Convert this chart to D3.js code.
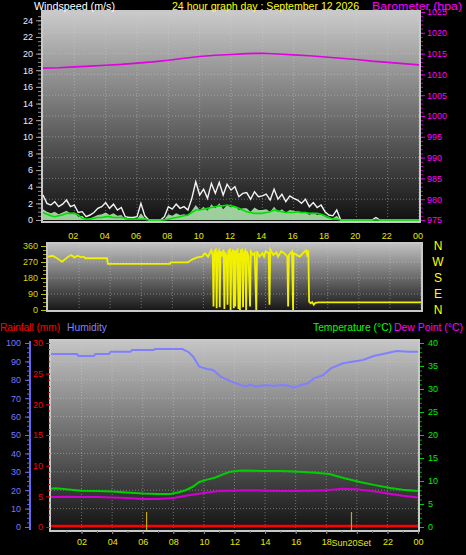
<!DOCTYPE html>
<html><head><meta charset="utf-8">
<script src="https://cdn.jsdelivr.net/npm/d3@7"></script>
<style>
body{margin:0;background:#000;}
svg{display:block;}
text{font-family:"Liberation Sans",Arial,sans-serif;}
</style>
</head><body>
<svg id="c" width="466" height="555"></svg>
<script>
// ---------- DATA ----------
const hourTicks = [2,4,6,8,10,12,14,16,18,20,22,24];
const hourLabels = ["02","04","06","08","10","12","14","16","18","20","22","00"];

// Barometer (hPa), hourly 0..24
const baroHours = [0,1,2,3,4,5,6,7,8,9,10,11,12,13,14,15,16,17,18,19,20,21,22,23,24];
const baroValues = [1011.5,1011.6,1011.8,1012.0,1012.2,1012.4,1012.7,1013.0,1013.4,1013.9,1014.3,1014.6,1014.8,1015.0,1015.1,1014.9,1014.7,1014.5,1014.2,1013.9,1013.6,1013.2,1012.9,1012.6,1012.3];

// Wind (m/s), every 15 minutes 0..24
const windStepHours = 0.25;
const windGust = [
 3.0,2.0,1.8,2.2, 1.6,1.9,2.4,1.6, 1.8,0.9,1.0,0.4, 0.6,0.9,1.4,1.6,
 2.1,1.4,1.9,1.2, 1.5,0.4,0.3,0.3, 0.4,2.0,0.5,0.0, 0.0,0.0,0.0,0.4,
 1.6,1.3,1.9,1.4, 1.6,1.2,2.6,4.6, 3.0,3.7,2.6,4.4, 3.2,4.5,3.0,4.3,
 3.6,4.0,2.8,3.2, 3.3,2.5,3.4,2.8, 2.9,3.1,2.4,3.7, 2.5,3.1,2.2,2.9,
 2.6,2.4,2.0,2.5, 1.6,2.1,1.5,1.8, 1.0,0.6,0.5,1.2, 0,0,0,0,
 0,0,0,0, 0,0.3,0,0, 0,0,0,0, 0,0,0,0, 0];
const windSpeed = [
 1.3,1.0,0.8,1.0, 0.7,0.9,1.1,0.8, 0.9,0.4,0.5,0.1, 0.2,0.4,0.6,0.7,
 0.9,0.6,0.8,0.5, 0.6,0.1,0.1,0.1, 0.1,0.8,0.2,0.0, 0.0,0.0,0.0,0.1,
 0.7,0.5,0.8,0.6, 0.7,0.5,1.1,1.8, 1.2,1.6,1.1,1.9, 1.4,2.0,1.3,1.8,
 1.5,1.7,1.2,1.4, 1.4,1.0,1.5,1.2, 1.2,1.3,1.0,1.6, 1.0,1.3,0.9,1.2,
 1.1,1.0,0.8,1.0, 0.6,0.9,0.6,0.7, 0.4,0.2,0.2,0.5, 0,0,0,0,
 0,0,0,0, 0,0,0,0, 0,0,0,0, 0,0,0,0, 0];
const windAvg = [
 0.9,0.7,0.5,0.4, 0.5,0.6,0.8,0.8, 0.8,0.6,0.2,0.1, 0.1,0.2,0.3,0.3,
 0.4,0.4,0.3,0.3, 0.3,0.2,0.1,0.1, 0.1,0.1,0.1,0.0, 0.0,0.0,0.0,0.0,
 0.1,0.2,0.3,0.4, 0.5,0.6,0.9,1.2, 1.2,1.3,1.4,1.5, 1.6,1.7,1.7,1.8,
 1.7,1.6,1.4,1.2, 1.0,0.9,0.8,0.8, 0.8,0.9,1.0,1.2, 1.1,1.0,0.9,0.9,
 0.9,1.0,0.9,0.9, 0.8,0.8,0.8,0.7, 0.5,0.3,0.1,0.1, 0,0,0,0,
 0,0,0,0, 0,0,0,0, 0,0,0,0, 0,0,0,0, 0];

// Wind direction (degrees)
const dirHours = [0.0,0.3,0.6,0.9,1.1,1.3,1.5,1.7,1.9,2.1,2.3,2.4,3.8,3.85,7.85,7.9,9.0,9.3,9.6,9.9,10.1,10.3,10.5,10.6,10.65,10.7,10.8,10.85,10.9,11.0,11.05,11.1,11.2,11.3,11.35,11.4,11.5,11.55,11.6,11.7,11.75,11.8,11.9,11.95,12.0,12.05,12.1,12.2,12.25,12.3,12.35,12.4,12.5,12.55,12.6,12.7,12.75,12.8,12.9,13.0,13.05,13.2,13.3,13.4,13.45,13.6,13.8,13.9,14.0,14.2,14.25,14.3,14.5,14.7,14.8,15.0,15.2,15.4,15.45,15.5,15.7,15.77,15.8,16.0,16.2,16.4,16.6,16.7,16.75,16.8,16.9,17.0,17.1,17.2,17.4,24];
const dirValues = [300,305,290,272,285,300,309,295,305,298,300,291,291,259,259,268,268,285,296,300,319,300,337,310,20,330,340,10,320,335,15,330,310,340,5,325,300,30,330,340,0,320,340,10,335,20,330,340,5,320,0,335,340,15,320,335,0,330,300,20,330,310,320,0,330,300,320,300,330,320,30,340,310,325,300,330,320,300,20,310,330,0,320,310,300,320,335,300,337,47,38,45,30,40,43,43];
const compassLabels = ["N","W","S","E","N"];
const compassDeg = [360,270,180,90,0];

// Humidity (%)
const humHours = [0,1,1.7,1.8,2.8,2.9,3.8,3.9,5.2,5.3,6.7,6.8,8.6,9.0,9.3,9.7,10.2,10.6,11.1,11.8,12.4,12.8,13.0,13.4,13.8,14.2,14.6,15.0,15.4,15.9,16.3,16.8,17.2,17.8,18.3,19.1,20.4,21.1,21.7,22.6,23.4,24];
const humValues = [94,94,94,93,93,94,94,95.3,95.3,96.2,96.2,96.7,96.7,95.0,92.6,87.1,85.9,85.3,81.7,79.0,77.2,76.4,77.5,76.3,76.9,77.0,76.6,77.2,77.0,75.7,77.0,78.1,80.8,82.6,86.2,89.0,90.8,92.9,94.0,95.6,95.3,95.3];

// Temperature and dew point (°C)
const tempHours = [0,0.3,1,2,3,4,5,6,7,7.8,8.3,8.8,9.3,9.7,10.2,10.7,11.2,11.7,12.5,13.7,15,16.3,17.3,18.2,19.2,20.2,21.2,22.2,23,24];
const tempValues = [8.3,8.4,8.2,7.9,7.8,7.7,7.5,7.3,7.2,7.2,7.5,8.0,8.8,9.8,10.3,10.7,11.4,12.0,12.3,12.2,12.2,12.0,11.8,11.5,10.6,9.8,9.1,8.5,8.1,7.8];
const dewHours = [0,1,2,3,4,5,6,7,8,9,10,11,12,13,14,15,16,17,18,19,20,21,22,23,24];
const dewValues = [6.5,6.6,6.5,6.5,6.4,6.3,6.1,6.1,6.3,6.9,7.4,7.8,7.9,8.0,7.9,7.8,7.8,7.9,8.0,8.3,8.2,7.8,7.3,6.8,6.4];

// Rainfall (mm)
const rainHours = [0,24];
const rainValues = [0,0];

// Sun events (hours)
const sunriseHour = 6.25;
const sunsetHour = 19.65;

// ---------- DRAW ----------
const svg = d3.select("#c");
const defs = svg.append("defs");
function grad(id, c0, c1){
  const g = defs.append("linearGradient").attr("id",id).attr("x1",0).attr("y1",0).attr("x2",0).attr("y2",1);
  g.append("stop").attr("offset","0%").attr("stop-color",c0);
  g.append("stop").attr("offset","100%").attr("stop-color",c1);
}
grad("gTop","#cbcbcb","#101010");
grad("gMid","#c2c2c2","#161616");
grad("gBot","#c6c6c6","#121212");

svg.append("rect").attr("width",466).attr("height",555).attr("fill","#000");

function panel(x0,y0,x1,y1,gid){
  svg.append("rect").attr("x",x0).attr("y",y0).attr("width",x1-x0).attr("height",y1-y0)
    .attr("fill","url(#"+gid+")").attr("stroke","#c8c8c8").attr("stroke-width",2);
}
function gridV(xs, y0, y1){
  svg.append("g").selectAll("line").data(hourTicks).join("line")
    .attr("x1",d=>xs(d)).attr("x2",d=>xs(d)).attr("y1",y0).attr("y2",y1)
    .attr("stroke","#d0d0d0").attr("stroke-opacity",0.45).attr("stroke-dasharray","1,2");
}
function gridH(vals, ys, x0, x1){
  svg.append("g").selectAll("line").data(vals).join("line")
    .attr("x1",x0).attr("x2",x1).attr("y1",d=>ys(d)).attr("y2",d=>ys(d))
    .attr("stroke","#d0d0d0").attr("stroke-opacity",0.45).attr("stroke-dasharray","1,2");
}
function styleAxis(g, color, textColor, fs){
  g.select(".domain").remove();
  g.selectAll("line").attr("stroke",color);
  g.selectAll("text").attr("fill",textColor).style("font-size",fs+"px")
    .style("font-family","'Liberation Sans',Arial,sans-serif");
}
function label(x,y,txt,color,len,size){
  svg.append("text").attr("x",x).attr("y",y).attr("fill",color).style("font-size",(size||11)+"px")
    .attr("textLength",len).attr("lengthAdjust","spacingAndGlyphs").text(txt);
}

// ----- Top panel: wind & barometer -----
const xTop = d3.scaleLinear([0,24],[43,419]);
const yWind = d3.scaleLinear([0,25],[220,12]);
const yBaro = d3.scaleLinear([975,1025],[220,12]);
panel(42,11,420,222,"gTop");
gridV(xTop,12,221);
gridH(d3.range(980,1025,5), yBaro, 43, 419);

const windHours = windGust.map((_,i)=>i*windStepHours);
const windArea = d3.area().x((d,i)=>xTop(windHours[i])).y0(yWind(0)).y1(d=>yWind(d));
svg.append("path").datum(windSpeed).attr("d",windArea).attr("fill","#b4f0b4").attr("fill-opacity",0.85);
svg.append("path").datum(windGust).attr("d",d3.line().x((d,i)=>xTop(windHours[i])).y(d=>yWind(d)))
  .attr("fill","none").attr("stroke","#f4f4f4").attr("stroke-width",1.4);
svg.append("path").datum(windAvg).attr("d",d3.line().x((d,i)=>xTop(windHours[i])).y(d=>yWind(d)))
  .attr("fill","none").attr("stroke","#00e000").attr("stroke-width",1.6);
svg.append("path").datum(baroValues).attr("d",d3.line().x((d,i)=>xTop(baroHours[i])).y(d=>yBaro(d)))
  .attr("fill","none").attr("stroke","#e000e0").attr("stroke-width",1.6);

// wind axis
let g = svg.append("g").attr("transform","translate(41,0)")
  .call(d3.axisLeft(yWind).tickValues(d3.range(0,25,0.5)).tickSize(3).tickFormat(""));
styleAxis(g,"#8a8a8a","#fff",9);
g = svg.append("g").attr("transform","translate(41,0)")
  .call(d3.axisLeft(yWind).tickValues(d3.range(0,25,2)).tickSize(5).tickPadding(3).tickFormat(d3.format("d")));
styleAxis(g,"#a0a0a0","#e6eeff",9);
// baro axis
g = svg.append("g").attr("transform","translate(421,0)")
  .call(d3.axisRight(yBaro).tickValues(d3.range(975,1026,1)).tickSize(2).tickFormat(""));
styleAxis(g,"#c000c0","#f0f",9);
g = svg.append("g").attr("transform","translate(421,0)")
  .call(d3.axisRight(yBaro).tickValues(d3.range(975,1026,5)).tickSize(4).tickPadding(2).tickFormat(d3.format("d")));
styleAxis(g,"#e000e0","#ff00ff",9);
// top hour labels
svg.append("g").selectAll("text").data(hourTicks).join("text")
  .attr("x",d=>xTop(d)-1).attr("y",239).attr("text-anchor","middle")
  .attr("fill","#e8e800").style("font-size","9px").text((d,i)=>hourLabels[i]);

// titles
label(34,10,"Windspeed (m/s)","#fff",81);
label(172,10,"24 hour graph day : September 12 2026","#ffff00",187);
label(372,10,"Barometer (hpa)","#ff00ff",90);

// ----- Middle panel: wind direction -----
const xMid = d3.scaleLinear([0,24],[48,421]);
const yDir = d3.scaleLinear([0,360],[310,246]);
panel(47,243,422,311,"gMid");
gridV(xMid,244,310);
gridH([90,180,270], yDir, 48, 421);
svg.append("path").datum(dirValues).attr("d",d3.line().x((d,i)=>xMid(dirHours[i])).y(d=>yDir(d)))
  .attr("fill","none").attr("stroke","#f0f000").attr("stroke-width",1.8);
g = svg.append("g").attr("transform","translate(46,0)")
  .call(d3.axisLeft(yDir).tickValues(d3.range(0,361,22.5)).tickSize(3).tickFormat(""));
styleAxis(g,"#a0a000","#cc0",9);
g = svg.append("g").attr("transform","translate(46,0)")
  .call(d3.axisLeft(yDir).tickValues([0,90,180,270,360]).tickSize(5).tickPadding(3).tickFormat(d3.format("d")));
styleAxis(g,"#c0c000","#d8d800",9);
svg.append("g").selectAll("text").data(compassDeg).join("text")
  .attr("x",438).attr("y",d=>yDir(d)+4).attr("text-anchor","middle")
  .attr("fill","#ffff00").style("font-size","12px").text((d,i)=>compassLabels[i]);

// ----- Bottom panel: rain, humidity, temperature, dew point -----
const xBot = d3.scaleLinear([0,24],[51,418]);
const yTemp = d3.scaleLinear([0,40],[527,343]);
const yHum = d3.scaleLinear([0,100],[527,343]);
const yRain = d3.scaleLinear([0,30],[527,343]);
panel(50,340,419,531,"gBot");
gridV(xBot,341,530);
gridH(d3.range(10,100,10), yHum, 51, 418);

svg.append("path").datum(humValues).attr("d",d3.line().x((d,i)=>xBot(humHours[i])).y(d=>yHum(d)))
  .attr("fill","none").attr("stroke","#8080ff").attr("stroke-width",2);
svg.append("path").datum(tempValues).attr("d",d3.line().x((d,i)=>xBot(tempHours[i])).y(d=>yTemp(d)))
  .attr("fill","none").attr("stroke","#00d000").attr("stroke-width",2);
svg.append("path").datum(dewValues).attr("d",d3.line().x((d,i)=>xBot(dewHours[i])).y(d=>yTemp(d)))
  .attr("fill","none").attr("stroke","#d000d0").attr("stroke-width",2);
svg.append("path").datum(rainValues).attr("d",d3.line().x((d,i)=>xBot(rainHours[i])).y(d=>yRain(d)-1))
  .attr("fill","none").attr("stroke","#ff0000").attr("stroke-width",2.5);
// sunrise / sunset markers
svg.append("g").selectAll("line").data([sunriseHour,sunsetHour]).join("line")
  .attr("x1",d=>xBot(d)).attr("x2",d=>xBot(d)).attr("y1",512).attr("y2",530)
  .attr("stroke","#c8a800").attr("stroke-width",1.2);

// humidity axis
g = svg.append("g").attr("transform","translate(30,0)")
  .call(d3.axisLeft(yHum).tickValues(d3.range(0,101,2.5)).tickSize(3).tickFormat(""));
styleAxis(g,"#6060e0","#8080ff",9);
g = svg.append("g").attr("transform","translate(30,0)")
  .call(d3.axisLeft(yHum).tickValues(d3.range(0,101,10)).tickSize(5).tickPadding(4).tickFormat(d3.format("d")));
styleAxis(g,"#6868f0","#7878ff",9);
svg.append("line").attr("x1",30).attr("x2",30).attr("y1",yHum(100)-2).attr("y2",yHum(0)+3)
  .attr("stroke","#6868f0").attr("stroke-width",2);
// rain axis
g = svg.append("g").attr("transform","translate(50,0)")
  .call(d3.axisLeft(yRain).tickValues(d3.range(0,31,1)).tickSize(2).tickFormat(""));
styleAxis(g,"#b00000","#f00",9);
g = svg.append("g").attr("transform","translate(50,0)")
  .call(d3.axisLeft(yRain).tickValues(d3.range(0,31,5)).tickSize(4).tickPadding(3).tickFormat(d3.format("d")));
styleAxis(g,"#e00000","#ff0000",9);
// temperature axis
g = svg.append("g").attr("transform","translate(420,0)")
  .call(d3.axisRight(yTemp).tickValues(d3.range(0,41,1)).tickSize(2).tickFormat(""));
styleAxis(g,"#00a000","#0f0",9);
g = svg.append("g").attr("transform","translate(420,0)")
  .call(d3.axisRight(yTemp).tickValues(d3.range(0,41,5)).tickSize(4).tickPadding(4).tickFormat(d3.format("d")));
styleAxis(g,"#00d000","#00ee00",9);
// bottom x axis (the "20" label shares its slot with the sunset marker text)
g = svg.append("g").attr("transform","translate(0,531)")
  .call(d3.axisBottom(xBot).tickValues(d3.range(1,24,1)).tickSize(2).tickFormat(""));
styleAxis(g,"#707070","#ff0",9);
g = svg.append("g").attr("transform","translate(0,531)")
  .call(d3.axisBottom(xBot).tickValues(hourTicks).tickSize(3).tickPadding(5)
    .tickFormat((d,i)=>d===20?"":hourLabels[i]));
styleAxis(g,"#909090","#e8e800",9);
const sx = xBot(sunsetHour);
svg.append("text").attr("x",sx-4).attr("y",546).attr("text-anchor","end")
  .attr("fill","#e8e800").style("font-size","9px").text("Sun");
svg.append("text").attr("x",sx+1).attr("y",546).attr("text-anchor","middle")
  .attr("fill","#e8e800").style("font-size","9px").text(hourLabels[hourTicks.indexOf(20)]);
svg.append("text").attr("x",sx+6).attr("y",546).attr("text-anchor","start")
  .attr("fill","#e8e800").style("font-size","9px").text("Set");

// bottom header
label(0,331,"Rainfall (mm)","#ff0000",60);
label(67,331,"Humidity","#8080ff",40);
label(313,331,"Temperature (°C)","#00ff00",79);
label(394,331,"Dew Point (°C)","#ff00ff",69);
</script>
</body></html>
